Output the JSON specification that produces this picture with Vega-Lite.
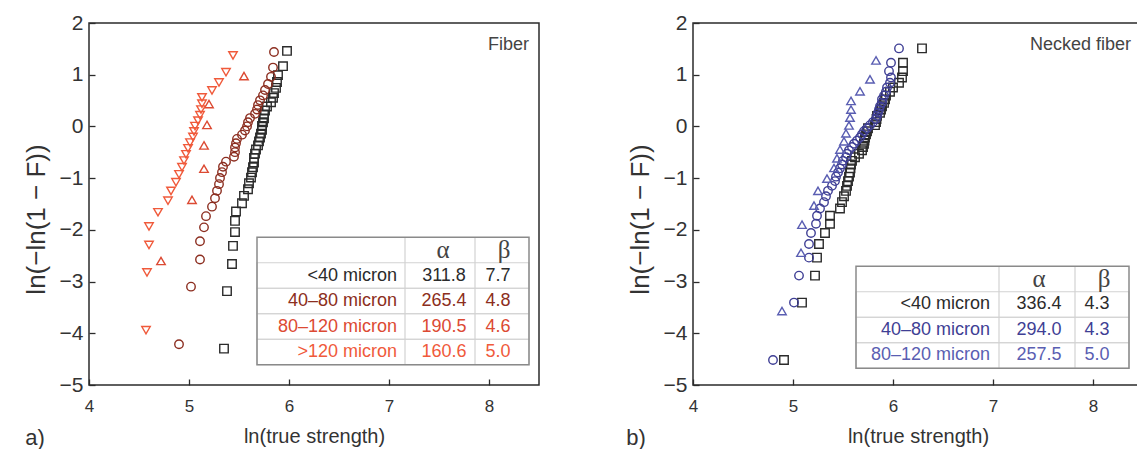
{
  "$schema": "https://vega.github.io/schema/vega-lite/v6.json",
  "background": "white",
  "padding": {"left": 22, "top": 11, "right": 0, "bottom": 0},
  "bounds": "flush",
  "spacing": 154,
  "resolve": {"scale": {"color": "independent", "shape": "independent"}},
  "config": {
    "font": "Liberation Sans",
    "view": {"stroke": "#2b2b2b", "strokeWidth": 1.5},
    "axis": {
      "grid": false,
      "domain": false,
      "tickColor": "#2b2b2b",
      "tickWidth": 1.3,
      "tickSize": -6,
      "labelColor": "#333333",
      "titleColor": "#333333",
      "titleFontWeight": "normal",
      "labelFlush": false,
      "format": "d"
    },
    "axisX": {"labelFontSize": 17, "labelPadding": 19, "titleFontSize": 20, "titlePadding": 12},
    "axisY": {"labelFontSize": 21, "labelPadding": 12, "titleFontSize": 26, "titlePadding": 10, "titleY": 196}
  },
  "datasets": {
    "fiber": [
      {"group": "<40 micron", "lnStrength": 5.35, "lnLnF": -4.297},
      {"group": "<40 micron", "lnStrength": 5.38, "lnLnF": -3.185},
      {"group": "<40 micron", "lnStrength": 5.43, "lnLnF": -2.660},
      {"group": "<40 micron", "lnStrength": 5.44, "lnLnF": -2.309},
      {"group": "<40 micron", "lnStrength": 5.46, "lnLnF": -2.043},
      {"group": "<40 micron", "lnStrength": 5.46, "lnLnF": -1.827},
      {"group": "<40 micron", "lnStrength": 5.47, "lnLnF": -1.644},
      {"group": "<40 micron", "lnStrength": 5.53, "lnLnF": -1.485},
      {"group": "<40 micron", "lnStrength": 5.55, "lnLnF": -1.343},
      {"group": "<40 micron", "lnStrength": 5.59, "lnLnF": -1.215},
      {"group": "<40 micron", "lnStrength": 5.60, "lnLnF": -1.098},
      {"group": "<40 micron", "lnStrength": 5.62, "lnLnF": -0.989},
      {"group": "<40 micron", "lnStrength": 5.63, "lnLnF": -0.887},
      {"group": "<40 micron", "lnStrength": 5.64, "lnLnF": -0.789},
      {"group": "<40 micron", "lnStrength": 5.65, "lnLnF": -0.699},
      {"group": "<40 micron", "lnStrength": 5.65, "lnLnF": -0.611},
      {"group": "<40 micron", "lnStrength": 5.66, "lnLnF": -0.527},
      {"group": "<40 micron", "lnStrength": 5.67, "lnLnF": -0.446},
      {"group": "<40 micron", "lnStrength": 5.69, "lnLnF": -0.367},
      {"group": "<40 micron", "lnStrength": 5.70, "lnLnF": -0.289},
      {"group": "<40 micron", "lnStrength": 5.71, "lnLnF": -0.214},
      {"group": "<40 micron", "lnStrength": 5.72, "lnLnF": -0.139},
      {"group": "<40 micron", "lnStrength": 5.73, "lnLnF": -0.065},
      {"group": "<40 micron", "lnStrength": 5.73, "lnLnF": 0.008},
      {"group": "<40 micron", "lnStrength": 5.74, "lnLnF": 0.082},
      {"group": "<40 micron", "lnStrength": 5.75, "lnLnF": 0.156},
      {"group": "<40 micron", "lnStrength": 5.75, "lnLnF": 0.231},
      {"group": "<40 micron", "lnStrength": 5.76, "lnLnF": 0.307},
      {"group": "<40 micron", "lnStrength": 5.78, "lnLnF": 0.386},
      {"group": "<40 micron", "lnStrength": 5.82, "lnLnF": 0.468},
      {"group": "<40 micron", "lnStrength": 5.84, "lnLnF": 0.553},
      {"group": "<40 micron", "lnStrength": 5.85, "lnLnF": 0.645},
      {"group": "<40 micron", "lnStrength": 5.87, "lnLnF": 0.745},
      {"group": "<40 micron", "lnStrength": 5.88, "lnLnF": 0.858},
      {"group": "<40 micron", "lnStrength": 5.89, "lnLnF": 0.991},
      {"group": "<40 micron", "lnStrength": 5.94, "lnLnF": 1.165},
      {"group": "<40 micron", "lnStrength": 5.98, "lnLnF": 1.460},
      {"group": "40–80 micron", "lnStrength": 4.90, "lnLnF": -4.212},
      {"group": "40–80 micron", "lnStrength": 5.02, "lnLnF": -3.098},
      {"group": "40–80 micron", "lnStrength": 5.11, "lnLnF": -2.572},
      {"group": "40–80 micron", "lnStrength": 5.11, "lnLnF": -2.220},
      {"group": "40–80 micron", "lnStrength": 5.15, "lnLnF": -1.952},
      {"group": "40–80 micron", "lnStrength": 5.17, "lnLnF": -1.735},
      {"group": "40–80 micron", "lnStrength": 5.23, "lnLnF": -1.551},
      {"group": "40–80 micron", "lnStrength": 5.26, "lnLnF": -1.390},
      {"group": "40–80 micron", "lnStrength": 5.28, "lnLnF": -1.246},
      {"group": "40–80 micron", "lnStrength": 5.30, "lnLnF": -1.116},
      {"group": "40–80 micron", "lnStrength": 5.31, "lnLnF": -0.996},
      {"group": "40–80 micron", "lnStrength": 5.33, "lnLnF": -0.884},
      {"group": "40–80 micron", "lnStrength": 5.34, "lnLnF": -0.780},
      {"group": "40–80 micron", "lnStrength": 5.37, "lnLnF": -0.681},
      {"group": "40–80 micron", "lnStrength": 5.45, "lnLnF": -0.587},
      {"group": "40–80 micron", "lnStrength": 5.46, "lnLnF": -0.497},
      {"group": "40–80 micron", "lnStrength": 5.46, "lnLnF": -0.409},
      {"group": "40–80 micron", "lnStrength": 5.47, "lnLnF": -0.324},
      {"group": "40–80 micron", "lnStrength": 5.48, "lnLnF": -0.241},
      {"group": "40–80 micron", "lnStrength": 5.53, "lnLnF": -0.159},
      {"group": "40–80 micron", "lnStrength": 5.56, "lnLnF": -0.079},
      {"group": "40–80 micron", "lnStrength": 5.58, "lnLnF": 0.001},
      {"group": "40–80 micron", "lnStrength": 5.59, "lnLnF": 0.081},
      {"group": "40–80 micron", "lnStrength": 5.61, "lnLnF": 0.161},
      {"group": "40–80 micron", "lnStrength": 5.66, "lnLnF": 0.243},
      {"group": "40–80 micron", "lnStrength": 5.68, "lnLnF": 0.327},
      {"group": "40–80 micron", "lnStrength": 5.69, "lnLnF": 0.413},
      {"group": "40–80 micron", "lnStrength": 5.71, "lnLnF": 0.504},
      {"group": "40–80 micron", "lnStrength": 5.74, "lnLnF": 0.600},
      {"group": "40–80 micron", "lnStrength": 5.76, "lnLnF": 0.704},
      {"group": "40–80 micron", "lnStrength": 5.79, "lnLnF": 0.821},
      {"group": "40–80 micron", "lnStrength": 5.82, "lnLnF": 0.959},
      {"group": "40–80 micron", "lnStrength": 5.84, "lnLnF": 1.138},
      {"group": "40–80 micron", "lnStrength": 5.85, "lnLnF": 1.440},
      {"group": "80–120 micron", "lnStrength": 4.72, "lnLnF": -2.602},
      {"group": "80–120 micron", "lnStrength": 5.03, "lnLnF": -1.419},
      {"group": "80–120 micron", "lnStrength": 5.15, "lnLnF": -0.818},
      {"group": "80–120 micron", "lnStrength": 5.15, "lnLnF": -0.367},
      {"group": "80–120 micron", "lnStrength": 5.18, "lnLnF": 0.029},
      {"group": "80–120 micron", "lnStrength": 5.20, "lnLnF": 0.433},
      {"group": "80–120 micron", "lnStrength": 5.55, "lnLnF": 0.973},
      {"group": ">120 micron", "lnStrength": 4.57, "lnLnF": -3.941},
      {"group": ">120 micron", "lnStrength": 4.58, "lnLnF": -2.823},
      {"group": ">120 micron", "lnStrength": 4.60, "lnLnF": -2.292},
      {"group": ">120 micron", "lnStrength": 4.60, "lnLnF": -1.934},
      {"group": ">120 micron", "lnStrength": 4.69, "lnLnF": -1.660},
      {"group": ">120 micron", "lnStrength": 4.79, "lnLnF": -1.437},
      {"group": ">120 micron", "lnStrength": 4.82, "lnLnF": -1.246},
      {"group": ">120 micron", "lnStrength": 4.87, "lnLnF": -1.078},
      {"group": ">120 micron", "lnStrength": 4.90, "lnLnF": -0.926},
      {"group": ">120 micron", "lnStrength": 4.93, "lnLnF": -0.788},
      {"group": ">120 micron", "lnStrength": 4.95, "lnLnF": -0.659},
      {"group": ">120 micron", "lnStrength": 4.97, "lnLnF": -0.538},
      {"group": ">120 micron", "lnStrength": 4.99, "lnLnF": -0.422},
      {"group": ">120 micron", "lnStrength": 5.01, "lnLnF": -0.312},
      {"group": ">120 micron", "lnStrength": 5.04, "lnLnF": -0.204},
      {"group": ">120 micron", "lnStrength": 5.05, "lnLnF": -0.098},
      {"group": ">120 micron", "lnStrength": 5.06, "lnLnF": 0.007},
      {"group": ">120 micron", "lnStrength": 5.09, "lnLnF": 0.112},
      {"group": ">120 micron", "lnStrength": 5.11, "lnLnF": 0.218},
      {"group": ">120 micron", "lnStrength": 5.12, "lnLnF": 0.327},
      {"group": ">120 micron", "lnStrength": 5.13, "lnLnF": 0.440},
      {"group": ">120 micron", "lnStrength": 5.13, "lnLnF": 0.562},
      {"group": ">120 micron", "lnStrength": 5.23, "lnLnF": 0.696},
      {"group": ">120 micron", "lnStrength": 5.30, "lnLnF": 0.851},
      {"group": ">120 micron", "lnStrength": 5.37, "lnLnF": 1.048},
      {"group": ">120 micron", "lnStrength": 5.44, "lnLnF": 1.374}
    ],
    "necked": [
      {"group": "<40 micron", "lnStrength": 4.91, "lnLnF": -4.516},
      {"group": "<40 micron", "lnStrength": 5.09, "lnLnF": -3.407},
      {"group": "<40 micron", "lnStrength": 5.22, "lnLnF": -2.885},
      {"group": "<40 micron", "lnStrength": 5.24, "lnLnF": -2.537},
      {"group": "<40 micron", "lnStrength": 5.26, "lnLnF": -2.274},
      {"group": "<40 micron", "lnStrength": 5.32, "lnLnF": -2.061},
      {"group": "<40 micron", "lnStrength": 5.37, "lnLnF": -1.882},
      {"group": "<40 micron", "lnStrength": 5.37, "lnLnF": -1.726},
      {"group": "<40 micron", "lnStrength": 5.47, "lnLnF": -1.588},
      {"group": "<40 micron", "lnStrength": 5.49, "lnLnF": -1.464},
      {"group": "<40 micron", "lnStrength": 5.51, "lnLnF": -1.350},
      {"group": "<40 micron", "lnStrength": 5.53, "lnLnF": -1.246},
      {"group": "<40 micron", "lnStrength": 5.54, "lnLnF": -1.149},
      {"group": "<40 micron", "lnStrength": 5.55, "lnLnF": -1.057},
      {"group": "<40 micron", "lnStrength": 5.56, "lnLnF": -0.971},
      {"group": "<40 micron", "lnStrength": 5.57, "lnLnF": -0.890},
      {"group": "<40 micron", "lnStrength": 5.575, "lnLnF": -0.811},
      {"group": "<40 micron", "lnStrength": 5.58, "lnLnF": -0.737},
      {"group": "<40 micron", "lnStrength": 5.59, "lnLnF": -0.665},
      {"group": "<40 micron", "lnStrength": 5.62, "lnLnF": -0.595},
      {"group": "<40 micron", "lnStrength": 5.66, "lnLnF": -0.528},
      {"group": "<40 micron", "lnStrength": 5.69, "lnLnF": -0.462},
      {"group": "<40 micron", "lnStrength": 5.70, "lnLnF": -0.398},
      {"group": "<40 micron", "lnStrength": 5.71, "lnLnF": -0.335},
      {"group": "<40 micron", "lnStrength": 5.715, "lnLnF": -0.274},
      {"group": "<40 micron", "lnStrength": 5.72, "lnLnF": -0.213},
      {"group": "<40 micron", "lnStrength": 5.73, "lnLnF": -0.153},
      {"group": "<40 micron", "lnStrength": 5.74, "lnLnF": -0.093},
      {"group": "<40 micron", "lnStrength": 5.75, "lnLnF": -0.034},
      {"group": "<40 micron", "lnStrength": 5.82, "lnLnF": 0.025},
      {"group": "<40 micron", "lnStrength": 5.83, "lnLnF": 0.084},
      {"group": "<40 micron", "lnStrength": 5.835, "lnLnF": 0.144},
      {"group": "<40 micron", "lnStrength": 5.84, "lnLnF": 0.204},
      {"group": "<40 micron", "lnStrength": 5.87, "lnLnF": 0.265},
      {"group": "<40 micron", "lnStrength": 5.88, "lnLnF": 0.327},
      {"group": "<40 micron", "lnStrength": 5.89, "lnLnF": 0.390},
      {"group": "<40 micron", "lnStrength": 5.91, "lnLnF": 0.456},
      {"group": "<40 micron", "lnStrength": 5.92, "lnLnF": 0.524},
      {"group": "<40 micron", "lnStrength": 5.93, "lnLnF": 0.595},
      {"group": "<40 micron", "lnStrength": 5.97, "lnLnF": 0.671},
      {"group": "<40 micron", "lnStrength": 6.00, "lnLnF": 0.753},
      {"group": "<40 micron", "lnStrength": 6.06, "lnLnF": 0.844},
      {"group": "<40 micron", "lnStrength": 6.09, "lnLnF": 0.946},
      {"group": "<40 micron", "lnStrength": 6.10, "lnLnF": 1.069},
      {"group": "<40 micron", "lnStrength": 6.10, "lnLnF": 1.231},
      {"group": "<40 micron", "lnStrength": 6.29, "lnLnF": 1.509},
      {"group": "40–80 micron", "lnStrength": 4.80, "lnLnF": -4.516},
      {"group": "40–80 micron", "lnStrength": 5.01, "lnLnF": -3.407},
      {"group": "40–80 micron", "lnStrength": 5.06, "lnLnF": -2.885},
      {"group": "40–80 micron", "lnStrength": 5.16, "lnLnF": -2.537},
      {"group": "40–80 micron", "lnStrength": 5.16, "lnLnF": -2.274},
      {"group": "40–80 micron", "lnStrength": 5.18, "lnLnF": -2.061},
      {"group": "40–80 micron", "lnStrength": 5.23, "lnLnF": -1.882},
      {"group": "40–80 micron", "lnStrength": 5.24, "lnLnF": -1.726},
      {"group": "40–80 micron", "lnStrength": 5.27, "lnLnF": -1.588},
      {"group": "40–80 micron", "lnStrength": 5.31, "lnLnF": -1.464},
      {"group": "40–80 micron", "lnStrength": 5.33, "lnLnF": -1.350},
      {"group": "40–80 micron", "lnStrength": 5.35, "lnLnF": -1.246},
      {"group": "40–80 micron", "lnStrength": 5.39, "lnLnF": -1.149},
      {"group": "40–80 micron", "lnStrength": 5.42, "lnLnF": -1.057},
      {"group": "40–80 micron", "lnStrength": 5.43, "lnLnF": -0.971},
      {"group": "40–80 micron", "lnStrength": 5.45, "lnLnF": -0.890},
      {"group": "40–80 micron", "lnStrength": 5.47, "lnLnF": -0.811},
      {"group": "40–80 micron", "lnStrength": 5.49, "lnLnF": -0.737},
      {"group": "40–80 micron", "lnStrength": 5.50, "lnLnF": -0.665},
      {"group": "40–80 micron", "lnStrength": 5.53, "lnLnF": -0.595},
      {"group": "40–80 micron", "lnStrength": 5.54, "lnLnF": -0.528},
      {"group": "40–80 micron", "lnStrength": 5.56, "lnLnF": -0.462},
      {"group": "40–80 micron", "lnStrength": 5.59, "lnLnF": -0.398},
      {"group": "40–80 micron", "lnStrength": 5.61, "lnLnF": -0.335},
      {"group": "40–80 micron", "lnStrength": 5.64, "lnLnF": -0.274},
      {"group": "40–80 micron", "lnStrength": 5.67, "lnLnF": -0.213},
      {"group": "40–80 micron", "lnStrength": 5.69, "lnLnF": -0.153},
      {"group": "40–80 micron", "lnStrength": 5.71, "lnLnF": -0.093},
      {"group": "40–80 micron", "lnStrength": 5.74, "lnLnF": -0.034},
      {"group": "40–80 micron", "lnStrength": 5.77, "lnLnF": 0.025},
      {"group": "40–80 micron", "lnStrength": 5.80, "lnLnF": 0.084},
      {"group": "40–80 micron", "lnStrength": 5.83, "lnLnF": 0.144},
      {"group": "40–80 micron", "lnStrength": 5.84, "lnLnF": 0.204},
      {"group": "40–80 micron", "lnStrength": 5.85, "lnLnF": 0.265},
      {"group": "40–80 micron", "lnStrength": 5.86, "lnLnF": 0.327},
      {"group": "40–80 micron", "lnStrength": 5.87, "lnLnF": 0.390},
      {"group": "40–80 micron", "lnStrength": 5.89, "lnLnF": 0.456},
      {"group": "40–80 micron", "lnStrength": 5.89, "lnLnF": 0.524},
      {"group": "40–80 micron", "lnStrength": 5.91, "lnLnF": 0.595},
      {"group": "40–80 micron", "lnStrength": 5.93, "lnLnF": 0.671},
      {"group": "40–80 micron", "lnStrength": 5.94, "lnLnF": 0.753},
      {"group": "40–80 micron", "lnStrength": 5.97, "lnLnF": 0.844},
      {"group": "40–80 micron", "lnStrength": 5.98, "lnLnF": 0.946},
      {"group": "40–80 micron", "lnStrength": 5.96, "lnLnF": 1.069},
      {"group": "40–80 micron", "lnStrength": 5.98, "lnLnF": 1.231},
      {"group": "40–80 micron", "lnStrength": 6.06, "lnLnF": 1.509},
      {"group": "80–120 micron", "lnStrength": 4.89, "lnLnF": -3.570},
      {"group": "80–120 micron", "lnStrength": 5.08, "lnLnF": -2.442},
      {"group": "80–120 micron", "lnStrength": 5.09, "lnLnF": -1.900},
      {"group": "80–120 micron", "lnStrength": 5.21, "lnLnF": -1.531},
      {"group": "80–120 micron", "lnStrength": 5.25, "lnLnF": -1.246},
      {"group": "80–120 micron", "lnStrength": 5.34, "lnLnF": -1.009},
      {"group": "80–120 micron", "lnStrength": 5.41, "lnLnF": -0.803},
      {"group": "80–120 micron", "lnStrength": 5.44, "lnLnF": -0.618},
      {"group": "80–120 micron", "lnStrength": 5.47, "lnLnF": -0.448},
      {"group": "80–120 micron", "lnStrength": 5.51, "lnLnF": -0.287},
      {"group": "80–120 micron", "lnStrength": 5.53, "lnLnF": -0.133},
      {"group": "80–120 micron", "lnStrength": 5.56, "lnLnF": 0.018},
      {"group": "80–120 micron", "lnStrength": 5.57, "lnLnF": 0.170},
      {"group": "80–120 micron", "lnStrength": 5.58, "lnLnF": 0.327},
      {"group": "80–120 micron", "lnStrength": 5.58, "lnLnF": 0.493},
      {"group": "80–120 micron", "lnStrength": 5.67, "lnLnF": 0.680},
      {"group": "80–120 micron", "lnStrength": 5.77, "lnLnF": 0.910},
      {"group": "80–120 micron", "lnStrength": 5.83, "lnLnF": 1.276}
    ],
    "fiberTable": [
      {"row": 1, "group": "<40 micron", "alpha": 311.8, "beta": 7.7},
      {"row": 2, "group": "40–80 micron", "alpha": 265.4, "beta": 4.8},
      {"row": 3, "group": "80–120 micron", "alpha": 190.5, "beta": 4.6},
      {"row": 4, "group": ">120 micron", "alpha": 160.6, "beta": 5.0}
    ],
    "neckedTable": [
      {"row": 1, "group": "<40 micron", "alpha": 336.4, "beta": 4.3},
      {"row": 2, "group": "40–80 micron", "alpha": 294.0, "beta": 4.3},
      {"row": 3, "group": "80–120 micron", "alpha": 257.5, "beta": 5.0}
    ]
  },
  "hconcat": [
    {
      "width": 450,
      "height": 362,
      "layer": [
        {
          "layer": [
            {
              "data": {"name": "fiber"},
              "mark": {"type": "point", "filled": false, "strokeWidth": 1.4, "size": 72, "opacity": 1},
              "encoding": {
                "x": {"field": "lnStrength", "type": "quantitative", "scale": {"domain": [4, 8.5], "nice": false, "zero": false}, "axis": {"values": [4, 5, 6, 7, 8], "title": "ln(true strength)"}},
                "y": {"field": "lnLnF", "type": "quantitative", "scale": {"domain": [-5, 2], "nice": false, "zero": false}, "axis": {"values": [-5, -4, -3, -2, -1, 0, 1, 2], "title": "ln(−ln(1 − F))"}},
                "color": {"field": "group", "type": "nominal", "legend": null, "scale": {"domain": ["<40 micron", "40–80 micron", "80–120 micron", ">120 micron"], "range": ["#2b2b2b", "#8c2e20", "#dc4a33", "#f05a3b"]}},
                "shape": {"field": "group", "type": "nominal", "legend": null, "scale": {"domain": ["<40 micron", "40–80 micron", "80–120 micron", ">120 micron"], "range": ["square", "circle", "triangle-up", "triangle-down"]}}
              }
            },
            {
              "data": {"values": [{}]},
              "mark": {"type": "text", "text": "Fiber", "align": "right", "baseline": "middle", "fontSize": 18, "color": "#444444"},
              "encoding": {"x": {"datum": 8.4}, "y": {"datum": 1.58}}
            },
            {
              "data": {"values": [{}]},
              "mark": {"type": "text", "text": "a)", "align": "center", "baseline": "middle", "fontSize": 22, "color": "#333333"},
              "encoding": {"x": {"datum": 3.46}, "y": {"datum": -6.02}}
            }
          ]
        },
        {
          "data": {"name": "fiberTable"},
          "layer": [
            {
              "mark": {"type": "rect", "fillOpacity": 0, "stroke": "#d2d2d2", "strokeWidth": 1.2, "yOffset": -12.75, "y2Offset": 12.75},
              "encoding": {
                "x": {"datum": 5.68}, "x2": {"datum": 8.4},
                "y": {"field": "row", "type": "quantitative", "axis": null, "scale": {"domain": [-8.902, 5.294], "reverse": true, "nice": false, "zero": false}},
                "y2": {"field": "row"}
              }
            },
            {
              "mark": {"type": "text", "align": "right", "baseline": "middle", "fontSize": 18},
              "encoding": {
                "x": {"datum": 7.08},
                "y": {"field": "row", "type": "quantitative"},
                "text": {"field": "group"},
                "color": {"field": "group", "type": "nominal", "legend": null}
              }
            },
            {
              "mark": {"type": "text", "align": "center", "baseline": "middle", "fontSize": 18},
              "encoding": {
                "x": {"datum": 7.55},
                "y": {"field": "row", "type": "quantitative"},
                "text": {"field": "alpha", "format": ".1f"},
                "color": {"field": "group", "type": "nominal", "legend": null}
              }
            },
            {
              "mark": {"type": "text", "align": "center", "baseline": "middle", "fontSize": 18},
              "encoding": {
                "x": {"datum": 8.09},
                "y": {"field": "row", "type": "quantitative"},
                "text": {"field": "beta", "format": ".1f"},
                "color": {"field": "group", "type": "nominal", "legend": null}
              }
            },
            {
              "data": {"values": [{}]},
              "mark": {"type": "rule", "color": "#d2d2d2", "strokeWidth": 1.2},
              "encoding": {"x": {"datum": 7.16}, "y": {"datum": -0.5}, "y2": {"datum": 4.5}}
            },
            {
              "data": {"values": [{}]},
              "mark": {"type": "rule", "color": "#d2d2d2", "strokeWidth": 1.2},
              "encoding": {"x": {"datum": 7.86}, "y": {"datum": -0.5}, "y2": {"datum": 4.5}}
            },
            {
              "data": {"values": [{}]},
              "mark": {"type": "rect", "fillOpacity": 0, "stroke": "#8a8a8a", "strokeWidth": 1.5},
              "encoding": {"x": {"datum": 5.68}, "x2": {"datum": 8.4}, "y": {"datum": -0.5}, "y2": {"datum": 4.5}}
            },
            {
              "data": {"values": [{}]},
              "mark": {"type": "text", "text": "α", "font": "Liberation Serif", "fontSize": 25, "align": "center", "baseline": "middle", "color": "#444444"},
              "encoding": {"x": {"datum": 7.54}, "y": {"datum": 0}}
            },
            {
              "data": {"values": [{}]},
              "mark": {"type": "text", "text": "β", "font": "Liberation Serif", "fontSize": 25, "align": "center", "baseline": "middle", "color": "#444444"},
              "encoding": {"x": {"datum": 8.15}, "y": {"datum": 0}}
            }
          ]
        }
      ],
      "resolve": {"scale": {"y": "independent"}}
    },
    {
      "width": 450,
      "height": 362,
      "layer": [
        {
          "layer": [
            {
              "data": {"name": "necked"},
              "mark": {"type": "point", "filled": false, "strokeWidth": 1.4, "size": 72, "opacity": 1},
              "encoding": {
                "x": {"field": "lnStrength", "type": "quantitative", "scale": {"domain": [4, 8.5], "nice": false, "zero": false}, "axis": {"values": [4, 5, 6, 7, 8], "title": "ln(true strength)"}},
                "y": {"field": "lnLnF", "type": "quantitative", "scale": {"domain": [-5, 2], "nice": false, "zero": false}, "axis": {"values": [-5, -4, -3, -2, -1, 0, 1, 2], "title": "ln(−ln(1 − F))"}},
                "color": {"field": "group", "type": "nominal", "legend": null, "scale": {"domain": ["<40 micron", "40–80 micron", "80–120 micron"], "range": ["#2b2b2b", "#3f3f95", "#5a5eb2"]}},
                "shape": {"field": "group", "type": "nominal", "legend": null, "scale": {"domain": ["<40 micron", "40–80 micron", "80–120 micron"], "range": ["square", "circle", "triangle-up"]}}
              }
            },
            {
              "data": {"values": [{}]},
              "mark": {"type": "text", "text": "Necked fiber", "align": "right", "baseline": "middle", "fontSize": 18, "color": "#444444"},
              "encoding": {"x": {"datum": 8.38}, "y": {"datum": 1.58}}
            },
            {
              "data": {"values": [{}]},
              "mark": {"type": "text", "text": "b)", "align": "center", "baseline": "middle", "fontSize": 22, "color": "#333333"},
              "encoding": {"x": {"datum": 3.43}, "y": {"datum": -6.02}}
            }
          ]
        },
        {
          "data": {"name": "neckedTable"},
          "layer": [
            {
              "mark": {"type": "rect", "fillOpacity": 0, "stroke": "#d2d2d2", "strokeWidth": 1.2, "yOffset": -12.75, "y2Offset": 12.75},
              "encoding": {
                "x": {"datum": 5.63}, "x2": {"datum": 8.36},
                "y": {"field": "row", "type": "quantitative", "axis": null, "scale": {"domain": [-10.039, 4.157], "reverse": true, "nice": false, "zero": false}},
                "y2": {"field": "row"}
              }
            },
            {
              "mark": {"type": "text", "align": "right", "baseline": "middle", "fontSize": 18},
              "encoding": {
                "x": {"datum": 6.97},
                "y": {"field": "row", "type": "quantitative"},
                "text": {"field": "group"},
                "color": {"field": "group", "type": "nominal", "legend": null}
              }
            },
            {
              "mark": {"type": "text", "align": "center", "baseline": "middle", "fontSize": 18},
              "encoding": {
                "x": {"datum": 7.46},
                "y": {"field": "row", "type": "quantitative"},
                "text": {"field": "alpha", "format": ".1f"},
                "color": {"field": "group", "type": "nominal", "legend": null}
              }
            },
            {
              "mark": {"type": "text", "align": "center", "baseline": "middle", "fontSize": 18},
              "encoding": {
                "x": {"datum": 8.04},
                "y": {"field": "row", "type": "quantitative"},
                "text": {"field": "beta", "format": ".1f"},
                "color": {"field": "group", "type": "nominal", "legend": null}
              }
            },
            {
              "data": {"values": [{}]},
              "mark": {"type": "rule", "color": "#d2d2d2", "strokeWidth": 1.2},
              "encoding": {"x": {"datum": 7.06}, "y": {"datum": -0.5}, "y2": {"datum": 3.5}}
            },
            {
              "data": {"values": [{}]},
              "mark": {"type": "rule", "color": "#d2d2d2", "strokeWidth": 1.2},
              "encoding": {"x": {"datum": 7.82}, "y": {"datum": -0.5}, "y2": {"datum": 3.5}}
            },
            {
              "data": {"values": [{}]},
              "mark": {"type": "rect", "fillOpacity": 0, "stroke": "#8a8a8a", "strokeWidth": 1.5},
              "encoding": {"x": {"datum": 5.63}, "x2": {"datum": 8.36}, "y": {"datum": -0.5}, "y2": {"datum": 3.5}}
            },
            {
              "data": {"values": [{}]},
              "mark": {"type": "text", "text": "α", "font": "Liberation Serif", "fontSize": 25, "align": "center", "baseline": "middle", "color": "#444444"},
              "encoding": {"x": {"datum": 7.46}, "y": {"datum": 0}}
            },
            {
              "data": {"values": [{}]},
              "mark": {"type": "text", "text": "β", "font": "Liberation Serif", "fontSize": 25, "align": "center", "baseline": "middle", "color": "#444444"},
              "encoding": {"x": {"datum": 8.11}, "y": {"datum": 0}}
            }
          ]
        }
      ],
      "resolve": {"scale": {"y": "independent"}}
    }
  ]
}
